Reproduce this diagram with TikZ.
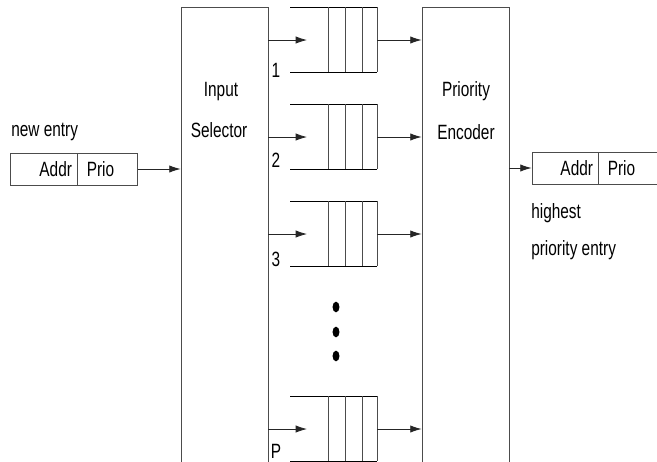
\documentclass[tikz,border=0pt]{standalone}
\usepackage{fontspec}
\setmainfont{Liberation Sans}[FakeStretch=0.745]
\usetikzlibrary{arrows.meta}

\begin{document}
\begin{tikzpicture}
      [x=0.75pt,y=-0.75pt,every node/.style={font=\fontsize{15.5}{18}\selectfont,inner sep=0pt},
       box/.style={draw=black!70,line width=0.6pt},
       field/.style={draw=black!70,line width=0.6pt,minimum height=24pt,inner xsep=3.75pt},
       arr/.style={-{Latex[length=8.5pt,width=5.5pt]},black!85,line width=0.6pt}]
	\clip (0,0) rectangle (657,461);

	\node (sel) [box,minimum width=65.25pt,minimum height=364.5pt] at (224.5,250) {};
	\node (enc) [box,minimum width=65.25pt,minimum height=364.5pt] at (465.5,250) {};
	\node (selt1) at (221,92)  {Input};
	\node (selt2) at (219,130) {Selector};
	\node (enct1) at (466,91)  {Priority};
	\node (enct2) at (466,132) {Encoder};

	\node (newaddr) [field,text width=42.75pt,align=right] at (43.5,169) {Addr};
	\node (newprio) [field,inner xsep=6.75pt,text width=31.5pt,align=left,anchor=west] at (newaddr.east) {Prio};
	\node (newlab) [anchor=west] at (11,132) {new entry};
	\draw[arr] (newprio.east) -- (sel.west |- newprio.east);

	\node (topaddr) [field,text width=42pt,align=right] at (565,168) {Addr};
	\node (topprio) [field,inner xsep=6.75pt,text width=31.5pt,align=left,anchor=west] at (topaddr.east) {Prio};
	\node (toplab1) [anchor=west] at (531,213) {highest};
	\node (toplab2) [anchor=west] at (531,250) {priority entry};
	\draw[arr] (enc.east |- topaddr.west) -- (topaddr.west);

	\foreach \n/\t/\l in {1/7/70,2/104/160,3/201/259,P/396/451} {
	  \draw[black,line width=0.6pt] (290,\t) -- (377,\t) (290,\t+65) -- (377,\t+65);
	  \foreach \x in {328,345,362,377}
	    \draw[black!70,line width=0.6pt] (\x,\t) -- (\x,\t+65);
	  \coordinate (in\n) at (307,\t+33);
	  \coordinate (out\n) at (377,\t+33);
	  \draw[arr] (sel.east |- in\n) -- (in\n);
	  \draw[arr] (out\n) -- (enc.west |- out\n);
	  \node (lab\n) at (276,\l) {\n};
	}

	\foreach \y in {307,332,356}
	  \fill (336,\y) ellipse (2.6pt and 4pt);
      \end{tikzpicture}
\end{document}
